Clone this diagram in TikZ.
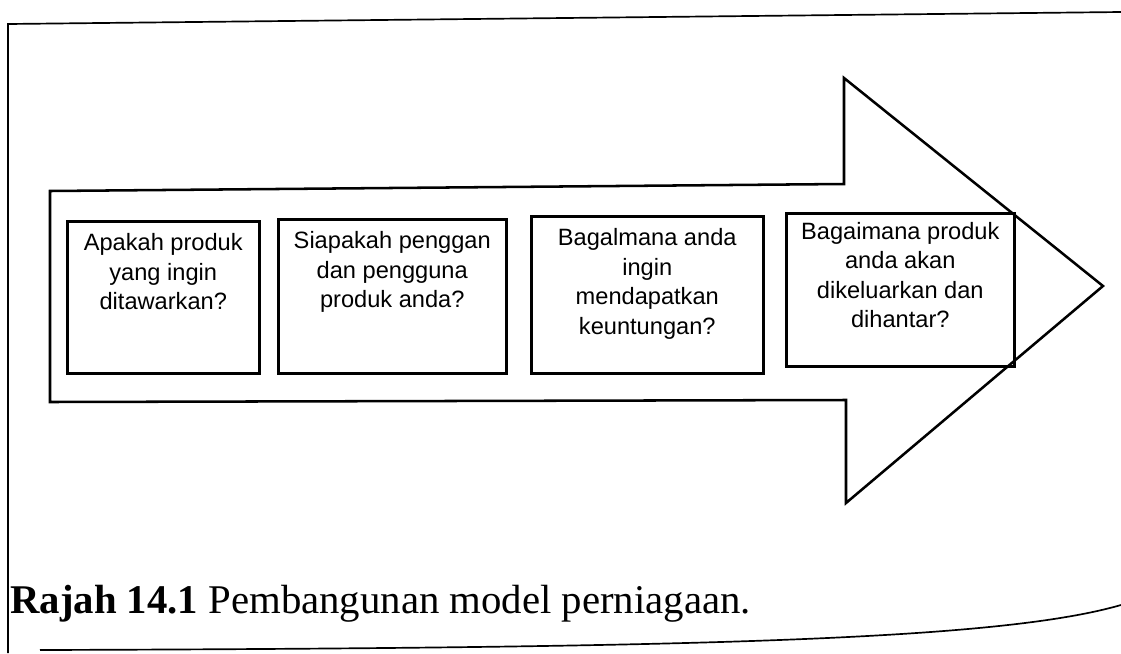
\documentclass[tikz,border=0pt]{standalone}
\usepackage{fontspec}
\setmainfont{Liberation Serif}
\setsansfont{Liberation Sans}
\usetikzlibrary{positioning}
\tikzset{
  frame/.style  ={draw, line width=1.2pt},
  bigarrow/.style ={draw, line width=1.8pt, line join=miter},
  qbox/.style   ={draw, rectangle, line width=1.8pt, inner sep=0pt},
  qtext/.style  ={align=center, inner sep=0pt, font=\sffamily\fontsize{16.8}{21}\selectfont},
  capt/.style   ={inner sep=0pt, font=\fontsize{29}{32}\selectfont},
}

\begin{document}
\begin{tikzpicture}[x=0.025cm, y=-0.025cm]
  \useasboundingbox (0,0) rectangle (1121,653);
  % page frame
  \draw[frame] (1121,12) -- (8,24) -- (8,653);
  \draw[frame] (40,650) .. controls (700,648) and (1000,640) .. (1121,605);

  % big arrow
  \draw[bigarrow] (50,191) -- (844,184) -- (844,78) -- (1103,286)
    -- (846,503) -- (846,400) -- (50,402) -- cycle;

  % question boxes
  \node[qbox, minimum width=192*0.025cm, minimum height=152*0.025cm, anchor=north west] (q1) at (66,220) {};
  \node[qbox, minimum width=228*0.025cm, minimum height=154*0.025cm, anchor=north west] (q2) at (277,218) {};
  \node[qbox, minimum width=232*0.025cm, minimum height=157*0.025cm, anchor=north west] (q3) at (530,215) {};
  \node[qbox, minimum width=228*0.025cm, minimum height=153*0.025cm, anchor=north west] (q4) at (785,212) {};

  \node[qtext, below=0.33cm of q1.north] (t1) {Apakah produk\\yang ingin\\ditawarkan?};
  \node[qtext, below=0.33cm of q2.north] (t2) {Siapakah penggan\\dan pengguna\\produk anda?};
  \node[qtext, below=0.33cm of q3.north] (t3) {Bagalmana anda\\ingin\\mendapatkan\\keuntungan?};
  \node[qtext, below=0.25cm of q4.north] (t4) {Bagaimana produk\\anda akan\\dikeluarkan dan\\dihantar?};

  % caption
  \node[capt, anchor=base west] (cap) at (10,613) {\textbf{Rajah 14.1} Pembangunan model perniagaan.};
\end{tikzpicture}
\end{document}
